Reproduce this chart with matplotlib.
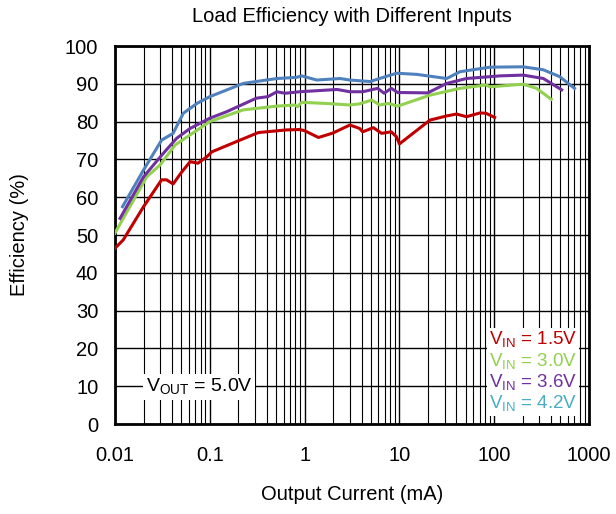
import matplotlib
matplotlib.use('Agg')
import matplotlib.pyplot as plt
from matplotlib.ticker import LogLocator, FixedLocator, NullFormatter

plt.rcParams['font.family'] = ['Liberation Sans', 'DejaVu Sans']

# Vin = 1.5V
x_15 = [0.01, 0.0122, 0.02, 0.031, 0.035, 0.041, 0.05, 0.062, 0.075, 0.093, 0.105,
        0.208, 0.325, 0.64, 0.89, 1.0, 1.4, 2.0, 3.0, 3.8, 4.1, 5.3, 6.5, 8.2, 9.3, 10,
        21, 31.5, 40, 51, 71, 82, 101]
y_15 = [46.5, 48.7, 57.5, 64.6, 64.6, 63.5, 66.5, 69.4, 69.0, 70.7, 72.0,
        75.1, 77.1, 77.8, 77.9, 77.6, 75.8, 77.0, 79.1, 78.2, 77.3, 78.4, 76.9, 77.3, 76.0, 74.1,
        80.4, 81.5, 82.0, 81.3, 82.3, 82.2, 81.1]

# Vin = 3.0V
x_30 = [0.01, 0.0104, 0.0216, 0.0298, 0.043, 0.062, 0.1, 0.225, 0.51, 0.79, 0.84, 0.93,
        1.7, 3.0, 3.8, 5.1, 6.2, 7.6, 9.6, 21, 43.6, 82, 90, 202, 280, 400]
y_30 = [50.5, 51.3, 65.4, 68.5, 73.8, 76.5, 80.0, 83.1, 84.1, 84.4, 83.9, 85.1,
        84.8, 84.4, 84.7, 85.7, 84.4, 84.8, 84.1, 87.0, 88.8, 89.7, 89.2, 89.9, 88.8, 85.9]

# Vin = 3.6V
x_36 = [0.0113, 0.02, 0.0323, 0.0447, 0.062, 0.1, 0.15, 0.31, 0.41, 0.51, 0.62, 0.89,
        2.2, 3.0, 4.1, 5.9, 6.9, 8.2, 9.6, 19.9, 31.5, 51, 115, 202, 330, 515]
y_36 = [54.4, 65.4, 71.6, 75.6, 78.2, 80.9, 82.6, 86.2, 86.6, 87.9, 87.5, 87.9,
        88.5, 87.9, 87.9, 88.8, 87.5, 88.8, 87.7, 87.6, 90.1, 91.4, 92.1, 92.3, 91.4, 88.4]

# Vin = 4.2V
x_42 = [0.012, 0.02, 0.031, 0.041, 0.0525, 0.073, 0.1, 0.225, 0.51, 0.82, 0.93, 1.34,
        2.37, 3.0, 4.9, 9.3, 15.2, 31.5, 43.6, 90, 202, 330, 490, 703]
y_42 = [57.5, 67.2, 75.1, 76.9, 82.2, 84.8, 86.6, 90.1, 91.4, 91.7, 92.1, 91.0,
        91.4, 91.0, 90.6, 92.8, 92.5, 91.4, 93.2, 94.4, 94.5, 93.7, 91.9, 88.8]

series = [
    (x_15, y_15, '#C00000', '#C00000', '1.5V'),
    (x_30, y_30, '#92D050', '#92D050', '3.0V'),
    (x_36, y_36, '#7030A0', '#7030A0', '3.6V'),
    (x_42, y_42, '#4F81BD', '#4BACC6', '4.2V'),
]

fig = plt.figure(figsize=(6.16, 5.14), dpi=100)
ax = fig.add_axes([0.1867, 0.175, 0.7695, 0.7355])

for xs, ys, col, _, _ in series:
    ax.plot(xs, ys, color=col, lw=2.2, zorder=3)

ax.set_xscale('log')
ax.set_xlim(0.01, 1000)
ax.set_ylim(0, 100)
ax.yaxis.set_major_locator(FixedLocator(range(0, 101, 10)))
ax.xaxis.set_minor_locator(LogLocator(base=10, subs=range(2, 10), numticks=100))
ax.xaxis.set_minor_formatter(NullFormatter())
ax.set_xticks([0.01, 0.1, 1, 10, 100, 1000])
ax.set_xticklabels(['0.01', '0.1', '1', '10', '100', '1000'])

ax.grid(True, which='major', color='black', lw=1.0)
ax.grid(True, which='minor', axis='x', color='black', lw=0.8)
ax.tick_params(which='both', length=0, labelsize=14.5)
ax.tick_params(axis='x', pad=16)
ax.tick_params(axis='y', pad=12)
for s in ax.spines.values():
    s.set_linewidth(2)

ax.set_title('Load Efficiency with Different Inputs', fontsize=14.5, pad=17)
ax.set_xlabel('Output Current (mA)', fontsize=14.5, labelpad=14)
ax.set_ylabel('Efficiency (%)', fontsize=14.5, labelpad=26)

for i, (_, _, _, tcol, lab) in enumerate(series):
    ax.text(0.975, 0.222 - i * 0.0565, r'V$_{\mathregular{IN}}$ = ' + lab,
            transform=ax.transAxes, ha='right', va='center', color=tcol,
            fontsize=13.5, zorder=5,
            bbox=dict(facecolor='white', edgecolor='none', pad=1.5))

ax.text(0.065, 0.098, r'V$_{\mathregular{OUT}}$ = 5.0V', transform=ax.transAxes,
        ha='left', va='center', fontsize=14, zorder=5,
        bbox=dict(facecolor='white', edgecolor='none', pad=2))

fig.savefig('out.png', dpi=100)
